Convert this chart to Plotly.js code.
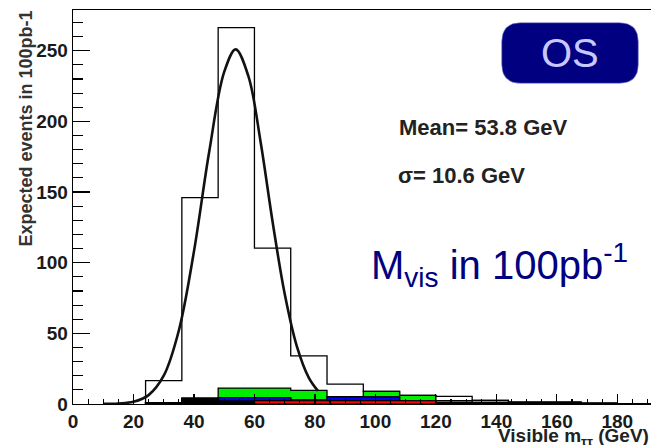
<!DOCTYPE html>
<html>
<head>
<meta charset="utf-8">
<script src="https://cdn.plot.ly/plotly-3.0.1.min.js"></script>
<style>html,body{margin:0;padding:0;background:#fff;}#chart{width:651px;height:445px;}</style>
</head>
<body>
<div id="chart"></div>
<script>
// ---- data ----
const binEdges    = [24, 36, 48, 60, 72, 84, 96, 108, 120, 132, 144, 156, 168, 180, 192];
const blackCounts = [1, 4, 2, 0, 0, 0, 0, 0, 0.8, 1, 1.2, 1.2, 0.5, 0.3];
const redCounts   = [0, 0, 0, 2.4, 2.4, 2.4, 2.4, 2.4, 0, 0, 0, 0, 0, 0];
const blueCounts  = [0, 0, 2.5, 2.1, 0.5, 2.6, 2.6, 0, 0, 0, 0, 0, 0, 0];
const cyanCounts  = [0, 0, 0, 0, 0, 0, 0, 0, 1.5, 0, 0, 0, 0, 0];
const greenCounts = [0, 0, 6.8, 6.8, 6.8, 0, 4.0, 3.7, 0, 1.5, 0, 0, 0, 0];
const signalCounts= [15.5, 142, 255, 99, 24.3, 9.1, 0, 0, 3.1, 0, 0, 0, 0, 0];

const fitX = [10, 15, 20, 25, 30, 35, 40, 45, 50, 53.8, 58, 62, 66, 70, 74, 78, 81];
const fitY = [0.1, 0.4, 1.6, 6.3, 20, 52, 108, 178, 235, 251, 232, 186, 129, 78, 41, 18.5, 9.3];

const xTickVals = [0, 20, 40, 60, 80, 100, 120, 140, 160, 180];
const yTickVals = [0, 50, 100, 150, 200, 250];

const meanText  = "Mean= 53.8 GeV";
const sigmaText = "σ= 10.6 GeV";
const lumiText  = "M<sub>vis</sub> in 100pb<sup>-1</sup>";
const boxText   = "OS";
const xTitle    = "Visible m<sub>ττ</sub> (GeV)";
const yTitle    = "Expected events in 100pb-1";

// ---- stacking (bottom -> top) ----
const layers = [
  {counts: blackCounts,  color: "#000000"},
  {counts: redCounts,    color: "#ff0000"},
  {counts: blueCounts,   color: "#0000ff"},
  {counts: cyanCounts,   color: "#00ffff"},
  {counts: greenCounts,  color: "#00ee00"},
  {counts: signalCounts, color: "#ffffff"}
];
let running = binEdges.slice(0, -1).map(() => 0);
const cumul = layers.map(l => {
  running = running.map((v, i) => v + l.counts[i]);
  return {vals: running.slice(), color: l.color};
});

function stepTrace(vals, color) {
  const xs = [binEdges[0]], ys = [0];
  vals.forEach((v, i) => { xs.push(binEdges[i]); ys.push(v); });
  xs.push(binEdges[binEdges.length - 1]); ys.push(vals[vals.length - 1]);
  xs.push(binEdges[binEdges.length - 1]); ys.push(0);
  return {
    type: "scatter", mode: "lines", x: xs, y: ys,
    line: {shape: "hv", color: "#000", width: 1.3},
    fill: "tozeroy", fillcolor: color, hoverinfo: "skip", showlegend: false
  };
}

const traces = [];
for (let k = cumul.length - 1; k >= 0; k--) traces.push(stepTrace(cumul[k].vals, cumul[k].color));
traces.push({
  type: "scatter", mode: "lines", x: fitX, y: fitY,
  line: {shape: "spline", color: "#111", width: 2.6}, showlegend: false, hoverinfo: "skip"
});

// ---- geometry helpers (pixel -> paper) ----
const W = 651, H = 445, mL = 73, mR = 0, mT = 10, mB = 41;
const pw = W - mL - mR, ph = H - mT - mB;
const px = v => (v - mL) / pw;
const py = v => 1 - (v - mT) / ph;

function roundRect(x0, y0, x1, y1, r) {
  const rx = r / pw, ry = r / ph;
  const X0 = px(x0), X1 = px(x1), Y0 = py(y0), Y1 = py(y1); // Y0 top, Y1 bottom
  return `M ${X0 + rx} ${Y0} L ${X1 - rx} ${Y0} Q ${X1} ${Y0} ${X1} ${Y0 - ry} ` +
         `L ${X1} ${Y1 + ry} Q ${X1} ${Y1} ${X1 - rx} ${Y1} L ${X0 + rx} ${Y1} ` +
         `Q ${X0} ${Y1} ${X0} ${Y1 + ry} L ${X0} ${Y0 - ry} Q ${X0} ${Y0} ${X0 + rx} ${Y0} Z`;
}

const FONT = "Liberation Sans, Arial, Helvetica, sans-serif";

const layout = {
  width: W, height: H,
  margin: {l: mL, r: mR, t: mT, b: mB, pad: 0},
  paper_bgcolor: "#fff", plot_bgcolor: "#fff",
  showlegend: false,
  font: {family: FONT, color: "#1a1a1a"},
  xaxis: {
    range: [0, pw / 3.024], showgrid: false, zeroline: false,
    showline: true, linecolor: "#000", linewidth: 1.3, mirror: true,
    tickmode: "array", tickvals: xTickVals,
    ticks: "inside", ticklen: 10, tickwidth: 1.2, tickcolor: "#000",
    minor: {dtick: 5, tick0: 0, ticks: "inside", ticklen: 5, tickwidth: 1.1, tickcolor: "#000", showgrid: false},
    tickfont: {family: FONT, size: 19, color: "#1a1a1a", weight: "bold"}
  },
  yaxis: {
    range: [0, ph / 1.413], showgrid: false, zeroline: false,
    showline: true, linecolor: "#000", linewidth: 1.3, mirror: false,
    tickmode: "array", tickvals: yTickVals,
    ticks: "inside", ticklen: 17, tickwidth: 1.2, tickcolor: "#000",
    minor: {dtick: 10, tick0: 0, ticks: "inside", ticklen: 10, tickwidth: 1.1, tickcolor: "#000", showgrid: false},
    tickfont: {family: FONT, size: 19, color: "#1a1a1a", weight: "bold"}
  },
  shapes: [{
    type: "path", xref: "paper", yref: "paper",
    path: roundRect(501.7, 22.7, 638.3, 83.3, 19),
    fillcolor: "#000080", line: {color: "#8f8fd0", width: 0.6}, layer: "above"
  }],
  annotations: [
    {text: boxText, xref: "paper", yref: "paper", x: px(570), y: py(53), xanchor: "center", yanchor: "middle",
     showarrow: false, font: {family: FONT, size: 40, color: "#c8c8ff"}},
    {text: meanText, xref: "paper", yref: "paper", x: px(397), y: py(127), xanchor: "left", yanchor: "middle",
     showarrow: false, font: {family: FONT, size: 22, color: "#222", weight: "bold"}},
    {text: sigmaText, xref: "paper", yref: "paper", x: px(396), y: py(175), xanchor: "left", yanchor: "middle",
     showarrow: false, font: {family: FONT, size: 22, color: "#222", weight: "bold"}},
    {text: lumiText, xref: "paper", yref: "paper", x: px(369), y: py(265), xanchor: "left", yanchor: "middle",
     showarrow: false, font: {family: FONT, size: 40, color: "#000080"}},
    {text: xTitle, xref: "paper", yref: "paper", x: px(651), y: py(451), xanchor: "right", yanchor: "bottom",
     showarrow: false, font: {family: FONT, size: 19, color: "#222", weight: "bold"}},
    {text: yTitle, xref: "paper", yref: "paper", x: px(25.5), y: py(9), xanchor: "center", yanchor: "top",
     textangle: -90, showarrow: false, font: {family: FONT, size: 18, color: "#333", weight: "bold"}}
  ]
};

Plotly.newPlot("chart", traces, layout, {staticPlot: true, displayModeBar: false});
</script>
</body>
</html>
